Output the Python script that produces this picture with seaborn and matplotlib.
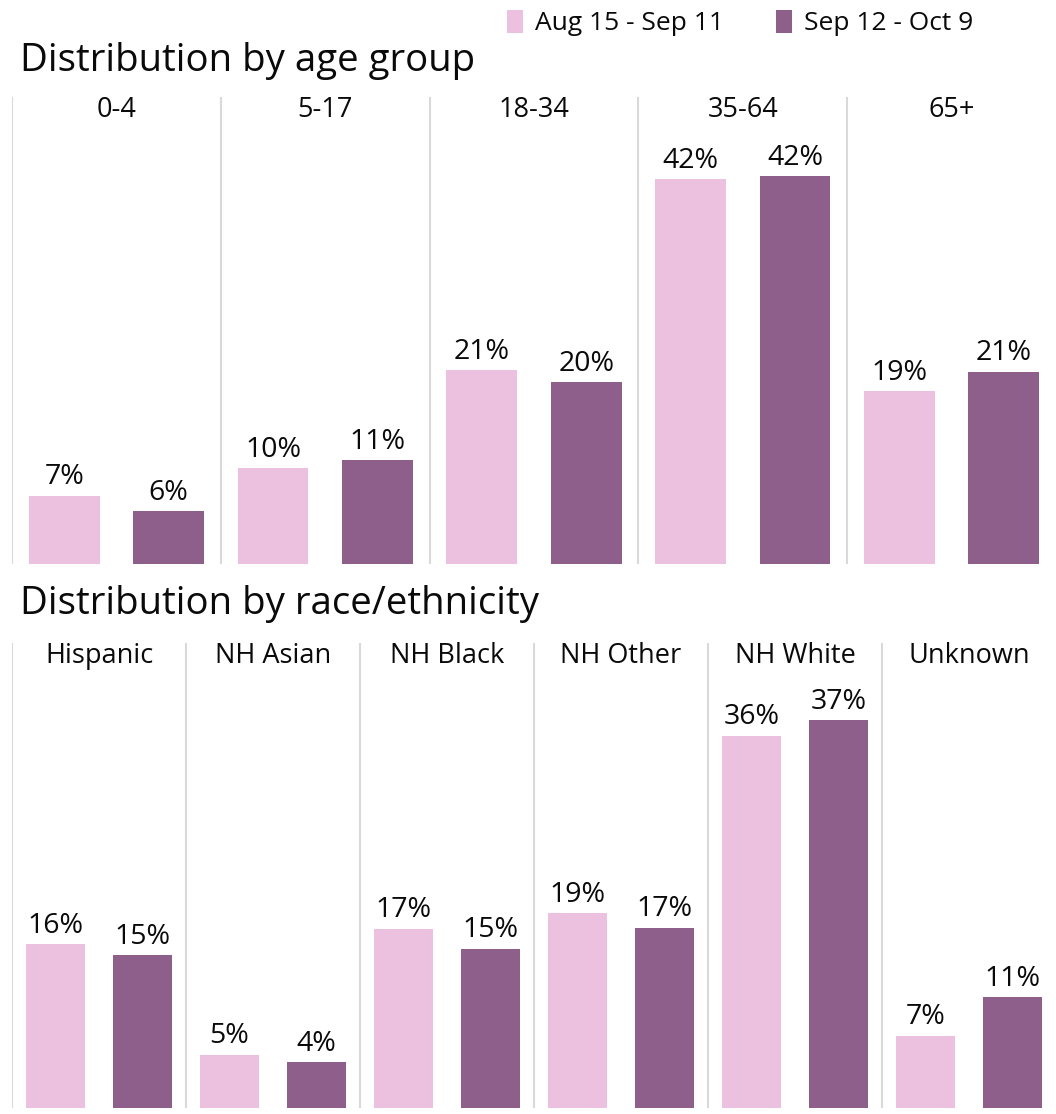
#!/usr/bin/env python3
"""
Two-period share by age group and by race/ethnicity, grouped bars.
"""

import pandas as pd
import seaborn as sns
import matplotlib.pyplot as plt
from matplotlib.patches import Patch

periods = ['Aug 15 - Sep 11', 'Sep 12 - Oct 9']

age_groups = ['0-4', '5-17', '18-34', '35-64', '65+']
age_first = [7.4, 10.4, 21.0, 41.6, 18.7]
age_second = [5.7, 11.2, 19.7, 41.9, 20.8]

race_groups = ['Hispanic', 'NH Asian', 'NH Black', 'NH Other', 'NH White', 'Unknown']
race_first = [15.6, 5.1, 17.1, 18.6, 35.5, 6.9]
race_second = [14.6, 4.4, 15.2, 17.2, 37.0, 10.6]

palette = {periods[0]: '#EBC1DF', periods[1]: '#8D5F8A'}
sep_color = '#D9D9D9'
text_color = '#0A0A0A'


def long_frame(groups, first, second):
    rows = []
    for g, a, b in zip(groups, first, second):
        rows.append({'group': g, 'period': periods[0], 'value': a})
        rows.append({'group': g, 'period': periods[1], 'value': b})
    return pd.DataFrame(rows)


def draw_panel(ax, groups, first, second, ymax):
    df = long_frame(groups, first, second)
    sns.barplot(
        data=df, x='group', y='value', hue='period', order=groups,
        hue_order=periods, palette=palette, width=1.0, gap=0.32,
        saturation=1, linewidth=0, legend=False, ax=ax
    )
    for cont in ax.containers:
        vals = [b.get_height() for b in cont]
        ax.bar_label(cont, labels=[f"{round(v)}%" for v in vals],
                     padding=3, fontsize=20.5, color=text_color)
    n = len(groups)
    for i in range(n):
        ax.axvline(i - 0.5, color=sep_color, lw=1.5, zorder=0)
        ax.text(i, 0.972, groups[i], transform=ax.get_xaxis_transform(),
                ha='center', va='center', fontsize=19.5, color=text_color)
    ax.set_xlim(-0.5, n - 0.5)
    ax.set_ylim(0, ymax)
    ax.set_xlabel('')
    ax.set_ylabel('')
    ax.set_xticks([])
    ax.set_yticks([])
    for s in ax.spines.values():
        s.set_visible(False)


sns.set_theme(style='white')
plt.rcParams['font.family'] = ['Open Sans', 'DejaVu Sans']

W, H = 1056, 1114
fig = plt.figure(figsize=(W / 100, H / 100), dpi=100)

ax_age = fig.add_axes([12 / W, 1 - 564 / H, 1044 / W, 467 / H])
draw_panel(ax_age, age_groups, age_first, age_second, 467 / 9.25)

ax_race = fig.add_axes([12 / W, 1 - 1108 / H, 1044 / W, 465 / H])
draw_panel(ax_race, race_groups, race_first, race_second, 465 / 10.49)

fig.text(20 / W, 1 - 61 / H, 'Distribution by age group', fontsize=27.6,
         ha='left', va='center', color=text_color)
fig.text(20 / W, 1 - 604 / H, 'Distribution by race/ethnicity', fontsize=27.6,
         ha='left', va='center', color=text_color)

handles = [Patch(facecolor=palette[p], edgecolor='none') for p in periods]
fig.legend(handles, periods, loc='upper left',
           bbox_to_anchor=(507 / W, 1 - 10 / H), ncol=2, frameon=False,
           fontsize=19, handlelength=0.6, handleheight=0.95,
           handletextpad=0.45, columnspacing=2.0, borderaxespad=0,
           borderpad=0, labelcolor=text_color)

fig.savefig('out.png', dpi=100)
